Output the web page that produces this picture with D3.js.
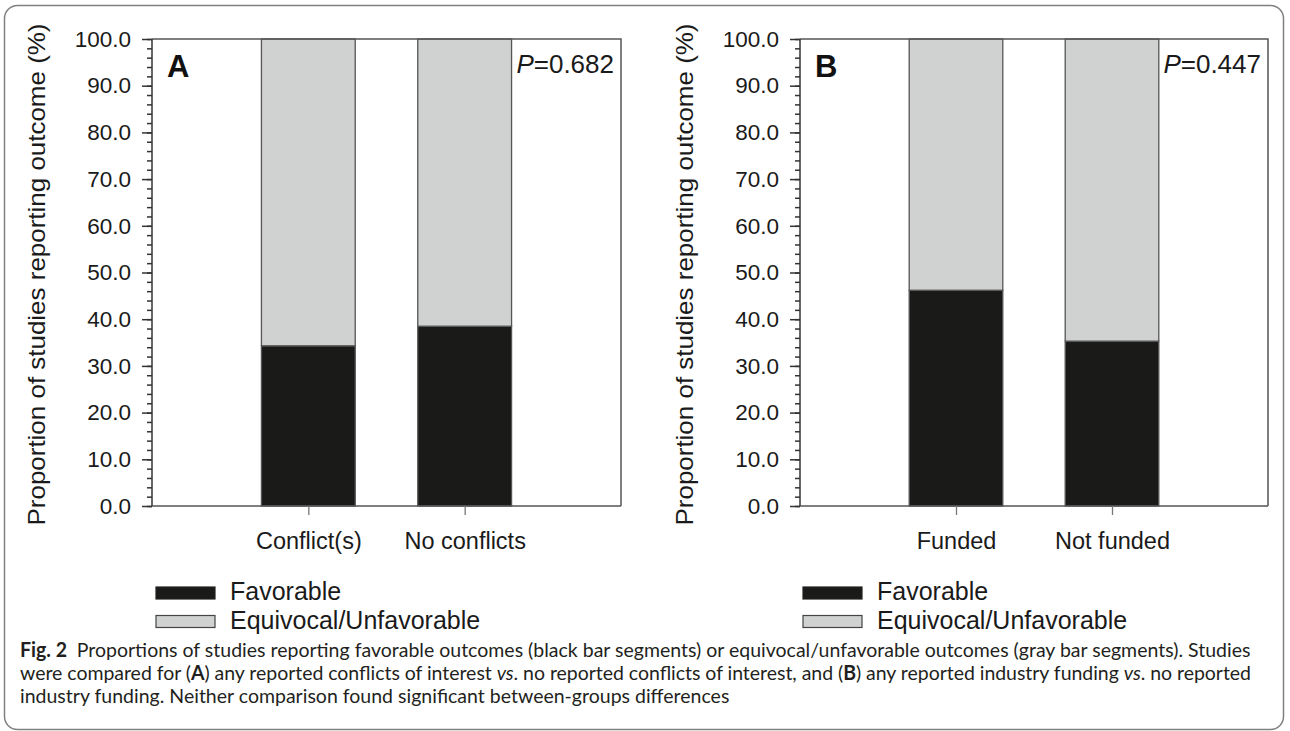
<!DOCTYPE html>
<html>
<head>
<meta charset="utf-8">
<script src="https://cdn.jsdelivr.net/npm/d3@7/dist/d3.min.js"></script>
<style>
  html, body { margin: 0; padding: 0; background: #ffffff; }
  svg { display: block; }
  .axis-font { font-family: "Liberation Sans", Arial, sans-serif; }
</style>
</head>
<body>
<svg id="fig" width="1290" height="731"></svg>
<script>
// ---- data ----
const panelLetters = ["A", "B"];
const categoriesA = ["Conflict(s)", "No conflicts"];
const categoriesB = ["Funded", "Not funded"];
const favorableA = [34.3, 38.5];
const favorableB = [46.2, 35.3];
const pValues = ["0.682", "0.447"];
const yTickValues = [0, 10, 20, 30, 40, 50, 60, 70, 80, 90, 100];
const yTickLabels = ["0.0", "10.0", "20.0", "30.0", "40.0", "50.0", "60.0", "70.0", "80.0", "90.0", "100.0"];
const yMinorTickValues = [0, 2, 4, 6, 8, 10, 12, 14, 16, 18, 20, 22, 24, 26, 28, 30, 32, 34, 36, 38, 40,
  42, 44, 46, 48, 50, 52, 54, 56, 58, 60, 62, 64, 66, 68, 70, 72, 74, 76, 78, 80,
  82, 84, 86, 88, 90, 92, 94, 96, 98, 100];
const seriesNames = ["Favorable", "Equivocal/Unfavorable"];
const yTitle = "Proportion of studies reporting outcome (%)";

const captionLine1 = [
  { t: "Fig. 2", w: "bold" },
  { t: "\u2002Proportions of studies reporting favorable outcomes (black bar segments) or equivocal/unfavorable outcomes (gray bar segments). Studies" }
];
const captionLine2 = [
  { t: "were compared for (" }, { t: "A", w: "bold" },
  { t: ") any reported conflicts of interest " }, { t: "vs", s: "italic" },
  { t: ". no reported conflicts of interest, and (" }, { t: "B", w: "bold" },
  { t: ") any reported industry funding " }, { t: "vs", s: "italic" },
  { t: ". no reported" }
];
const captionLine3 = [
  { t: "industry funding. Neither comparison found significant between-groups differences" }
];

// ---- styles ----
const FAV_FILL = "#1a1a18";
const UNF_FILL = "#d0d1d1";
const BAR_STROKE = "#555555";
const AXIS_COLOR = "#333333";

const svg = d3.select("#fig");

// rounded figure frame
svg.append("rect")
  .attr("x", 4.5).attr("y", 5.5)
  .attr("width", 1279).attr("height", 724)
  .attr("rx", 13).attr("ry", 13)
  .attr("fill", "none")
  .attr("stroke", "#808080")
  .attr("stroke-width", 1.5);

const panels = [
  { letter: panelLetters[0], cats: categoriesA, fav: favorableA, p: pValues[0], left: 152, right: 621, titleX: 37, legendX: 156 },
  { letter: panelLetters[1], cats: categoriesB, fav: favorableB, p: pValues[1], left: 800, right: 1268, titleX: 685, legendX: 803 }
];
const TOP = 39, BOTTOM = 506;

panels.forEach(pn => {
  const g = svg.append("g").attr("class", "axis-font");
  const x = d3.scaleLinear().domain([0, 3]).range([pn.left, pn.right]);
  const y = d3.scaleLinear().domain([0, 100]).range([BOTTOM, TOP]);
  const barW = x(0.6) - x(0);

  // stacked bars
  const rows = pn.cats.map((c, i) => ({ cat: c, pos: i + 1, fav: pn.fav[i], unf: 100 - pn.fav[i] }));
  const stack = d3.stack().keys(["fav", "unf"])(rows);
  const fills = [FAV_FILL, UNF_FILL];
  stack.forEach((layer, k) => {
    g.selectAll(null).data(layer).enter().append("rect")
      .attr("x", d => x(d.data.pos) - barW / 2)
      .attr("width", barW)
      .attr("y", d => y(d[1]))
      .attr("height", d => y(d[0]) - y(d[1]))
      .attr("fill", fills[k])
      .attr("stroke", BAR_STROKE)
      .attr("stroke-width", 1.3);
  });

  // plot frame: top and right edges
  g.append("path")
    .attr("d", `M${pn.left},${TOP}H${pn.right}V${BOTTOM}`)
    .attr("fill", "none").attr("stroke", "#555").attr("stroke-width", 1.5);

  // y axis with minor ticks
  const yMinor = d3.axisLeft(y).tickValues(yMinorTickValues).tickSize(5).tickFormat("");
  const gm = g.append("g").attr("transform", `translate(${pn.left},0)`).call(yMinor);
  gm.select(".domain").remove();
  gm.selectAll("line").attr("stroke", AXIS_COLOR).attr("stroke-width", 1.5);

  const yAxis = d3.axisLeft(y).tickValues(yTickValues).tickSize(10).tickPadding(11)
    .tickFormat((d, i) => yTickLabels[i]);
  const ga = g.append("g").attr("transform", `translate(${pn.left},0)`).call(yAxis);
  ga.select(".domain").attr("stroke", AXIS_COLOR).attr("stroke-width", 1.5).attr("d", `M0,${BOTTOM}V${TOP}`);
  ga.selectAll("line").attr("stroke", AXIS_COLOR).attr("stroke-width", 1.5);
  ga.selectAll("text").attr("font-size", 22.5).attr("fill", "#1a1a1a")
    .attr("font-family", "Liberation Sans, Arial, sans-serif");

  // x axis
  const xAxis = d3.axisBottom(x).tickValues([1, 2]).tickSize(9).tickPadding(17)
    .tickFormat((d, i) => pn.cats[i]);
  const gx = g.append("g").attr("transform", `translate(0,${BOTTOM})`).call(xAxis);
  gx.select(".domain").attr("stroke", "#555").attr("stroke-width", 1.5)
    .attr("d", `M${pn.left},0H${pn.right}`);
  gx.selectAll("line").attr("stroke", "#777").attr("stroke-width", 1.3);
  gx.selectAll("text").attr("font-size", 23.5).attr("fill", "#1a1a1a")
    .attr("font-family", "Liberation Sans, Arial, sans-serif");

  // axis title
  g.append("text")
    .attr("transform", `translate(${pn.titleX + 8},${(TOP + BOTTOM) / 2 + 2}) rotate(-90)`)
    .attr("text-anchor", "middle")
    .attr("font-size", 24)
    .attr("fill", "#1a1a1a")
    .attr("textLength", 502).attr("lengthAdjust", "spacingAndGlyphs")
    .text(yTitle);

  // panel letter and P value
  g.append("text").attr("x", pn.left + 15).attr("y", 77)
    .attr("font-size", 31).attr("font-weight", "bold").attr("fill", "#111")
    .text(pn.letter);
  const pt = g.append("text").attr("x", pn.right - 7).attr("y", 73)
    .attr("text-anchor", "end").attr("font-size", 26).attr("fill", "#1a1a1a");
  pt.append("tspan").attr("font-style", "italic").text("P");
  pt.append("tspan").text("=" + pn.p);

  // legend
  const lg = g.append("g").attr("transform", `translate(${pn.legendX},0)`);
  const legY = [587, 615.5];
  seriesNames.forEach((name, i) => {
    lg.append("rect").attr("x", 0).attr("y", legY[i]).attr("width", 59).attr("height", 12)
      .attr("fill", fills[i]).attr("stroke", i === 0 ? "#222" : "#444").attr("stroke-width", 1.2);
    lg.append("text").attr("x", 74).attr("y", legY[i] + 13)
      .attr("font-size", 25).attr("fill", "#1a1a1a").text(name);
  });
});

// caption, justified across the full width except its last line
const capG = svg.append("g")
  .attr("font-family", "Lato, 'Open Sans', sans-serif")
  .attr("font-size", 20)
  .attr("fill", "#231f20");
const capLines = [captionLine1, captionLine2, captionLine3];
const capBase = [657, 680, 703];
const capNodes = capLines.map((line, i) => {
  const t = capG.append("text").attr("x", 0).attr("y", capBase[i]);
  line.forEach(seg => {
    const s = t.append("tspan").text(seg.t);
    if (seg.w) s.attr("font-weight", seg.w);
    if (seg.s) s.attr("font-style", seg.s);
  });
  return t;
});
const natural = capNodes[0].node().getComputedTextLength();
const sx = (1251 - 20) / natural;
capNodes[1].attr("textLength", natural).attr("lengthAdjust", "spacing");
capG.attr("transform", `translate(20,0) scale(${sx},1)`);
</script>
</body>
</html>
